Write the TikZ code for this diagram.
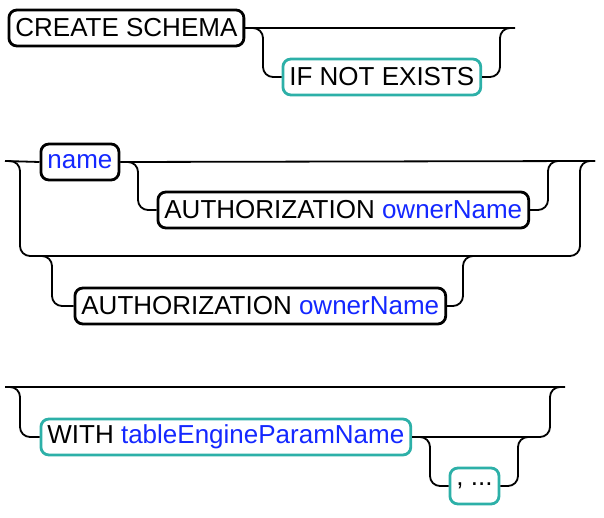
\documentclass[tikz,border=0pt]{standalone}
\usepackage{fontspec}
\setmainfont{Liberation Sans}
\definecolor{rdInk}{HTML}{000000}
\definecolor{rdTeal}{HTML}{2DB0A8}
\definecolor{rdBlue}{HTML}{1428FF}
\tikzset{
  rd rail/.style={draw=rdInk, line width=1.8pt, rounded corners=10pt},
  rd box/.style={draw=rdInk, line width=2.8pt, rounded corners=8pt, fill=white, anchor=west,
    inner xsep=6.5pt, inner ysep=0pt, minimum height=36pt, font=\fontsize{26}{31}\selectfont},
  rd teal box/.style={rd box, draw=rdTeal},
}
\newcommand{\rdid}[1]{\textcolor{rdBlue}{#1}}

\begin{document}
\begin{tikzpicture}[x=1pt,y=-1pt]
  \useasboundingbox (0,0) rectangle (604,518);
  % CREATE SCHEMA [IF NOT EXISTS]
  \node[rd box] (cs) at (7.5,28) {CREATE SCHEMA};
  \node[rd teal box] (ine) at (281.5,77) {IF NOT EXISTS};
  \coordinate (e1) at (515,28);
  \draw[rd rail] (cs.east) -- (e1);
  \draw[rd rail] (cs.east) -| (263,77) -- (ine.west);
  \draw[rd rail] (ine.east) -| (500,28) -- (e1);

  % name [AUTHORIZATION ownerName] | AUTHORIZATION ownerName
  \coordinate (s2) at (5,161);
  \coordinate (e2) at (595,161);
  \coordinate (j1) at (562,161);
  \node[rd box] (nm) at (39.5,162) {\rdid{name}};
  \node[rd box] (au1) at (156.5,210) {AUTHORIZATION \rdid{ownerName}};
  \draw[rd rail] (s2) -- (nm.west);
  \draw[rd rail] (nm.east) -- (e2);
  \draw[rd rail] (nm.east) -| (138,210) -- (au1.west);
  \draw[rd rail] (au1.east) -| (548,161) -- (j1);
  \coordinate (b1) at (38,256);
  \coordinate (b2) at (480,256);
  \node[rd box] (au2) at (73.5,306) {AUTHORIZATION \rdid{ownerName}};
  \draw[rd rail] (s2) -| (20,256) -| (580,161) -- (e2);
  \draw[rd rail] (b1) -| (52,306) -- (au2.west);
  \draw[rd rail] (au2.east) -| (463,256) -- (b2);

  % [WITH tableEngineParamName [, ...]]
  \coordinate (s3) at (5,387);
  \coordinate (e3) at (565,387);
  \coordinate (j3) at (535,437);
  \node[rd teal box] (wt) at (39.5,437) {WITH \rdid{tableEngineParamName}};
  \node[rd teal box] (cm) at (448.5,486) {, ...};
  \draw[rd rail] (s3) -- (e3);
  \draw[rd rail] (s3) -| (20,437) -- (wt.west);
  \draw[rd rail] (wt.east) -| (550,387) -- (e3);
  \draw[rd rail] (wt.east) -| (430,486) -- (cm.west);
  \draw[rd rail] (cm.east) -| (518,437) -- (j3);
\end{tikzpicture}
\end{document}
